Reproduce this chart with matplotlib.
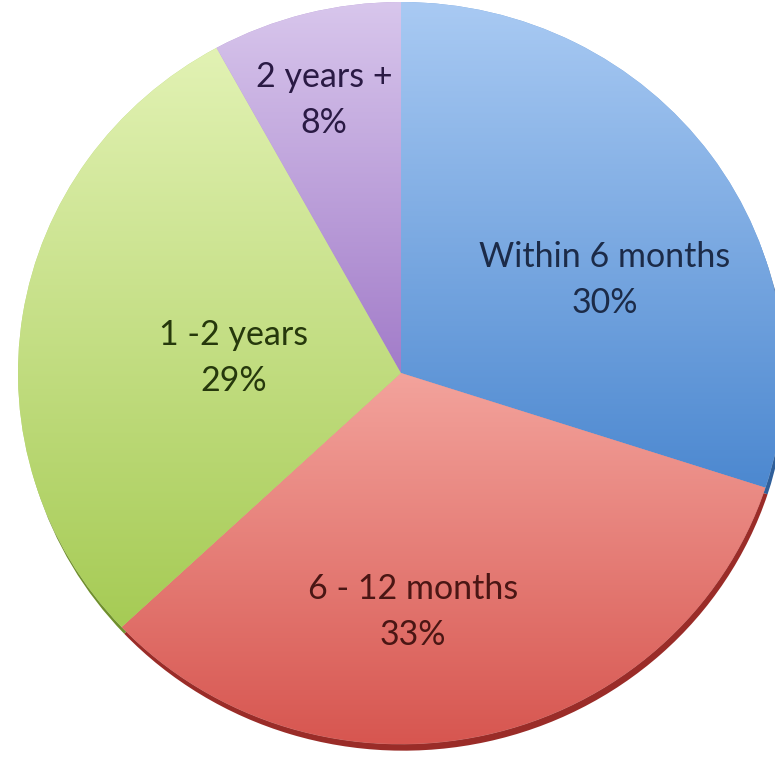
import numpy as np
import matplotlib.pyplot as plt
from matplotlib.colors import LinearSegmentedColormap

plt.rcParams['font.family'] = ['Lato', 'DejaVu Sans']

labels = ["Within 6 months", "6 - 12 months", "1 -2 years", "2 years +"]
shares = [30, 33, 29, 8]

top_colors = ["#a9caf3", "#f3a39c", "#e2f2b4", "#d8c6ec"]
bottom_colors = ["#4c88d0", "#d75650", "#a6cb55", "#a27cc9"]
rim_colors = ["#2f5f9a", "#9a2c28", "#6f8f2c", "#6c4c90"]
text_colors = ["#1c2b48", "#4a1614", "#26380c", "#2a1a44"]

# label centres, in pixels of the reference picture
label_px = [(605, 280), (413, 612), (234, 358), (324, 100)]

W, H = 775, 765
fig = plt.figure(figsize=(W / 100, H / 100), dpi=100)
fig.patch.set_facecolor("white")

# pie box in pixels: left, right, top, bottom
pl, pr, pt, pb = 18, 784, 2, 744
ax = fig.add_axes([pl / W, (H - pb) / H, (pr - pl) / W, (pb - pt) / H])
cx, cy = (pl + pr) / 2, (pt + pb) / 2
rx, ry = (pr - pl) / 2, (pb - pt) / 2

# dark rim under the pie
ax.pie(shares, startangle=90, counterclock=False, radius=1,
       center=(0.006, -0.018), colors=rim_colors,
       wedgeprops=dict(linewidth=0))

wedges, _ = ax.pie(shares, startangle=90, counterclock=False, radius=1,
                   colors=bottom_colors,
                   wedgeprops=dict(linewidth=0.5, edgecolor="#ffffff60"))

# vertical gradient inside each slice
grad = np.linspace(0, 1, 256).reshape(-1, 1)
for w, c1, c2 in zip(wedges, top_colors, bottom_colors):
    ext = w.get_path().get_extents()
    cmap = LinearSegmentedColormap.from_list("g", [c2, c1])
    im = ax.imshow(grad, cmap=cmap, origin="lower", aspect="auto",
                   extent=(ext.x0, ext.x1, ext.y0, ext.y1), zorder=2)
    im.set_clip_path(w)
    w.set_zorder(1)

for lab, pct, (px, py), tc in zip(labels, shares, label_px, text_colors):
    ux = (px - cx) / rx
    uy = (cy - py) / ry
    ax.text(ux, uy, f"{lab}\n{pct}%", ha="center", va="center",
            fontsize=24.5, color=tc, linespacing=1.55, zorder=5)

ax.set_aspect("auto")
ax.set_xlim(-1, 1)
ax.set_ylim(-1, 1)
ax.axis("off")

fig.savefig("out.png", dpi=100)
